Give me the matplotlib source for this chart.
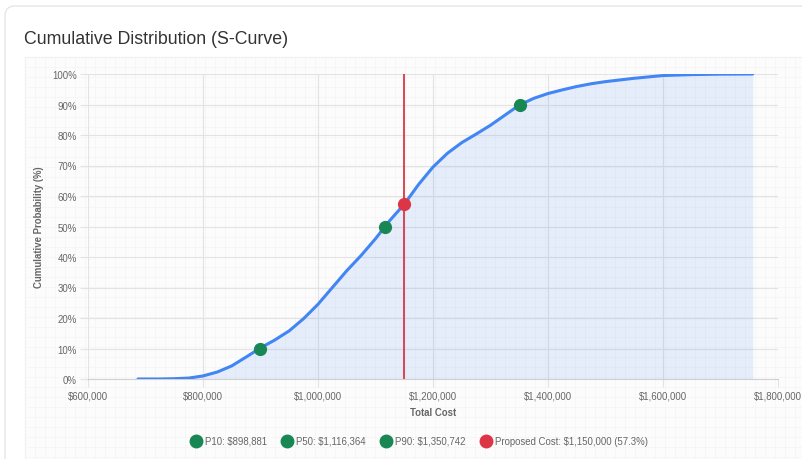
import numpy as np
import matplotlib.pyplot as plt
from matplotlib.patches import FancyBboxPatch, Rectangle
from matplotlib.lines import Line2D
from matplotlib.ticker import FuncFormatter

plt.rcParams['font.family'] = ['Liberation Sans', 'DejaVu Sans']

# S-curve
cost = [687000, 700000, 725000, 750000, 775000, 800000, 825000, 850000, 875000,
        900000, 925000, 950000, 975000, 1000000, 1025000, 1050000, 1075000,
        1100000, 1125000, 1150000, 1175000, 1200000, 1225000, 1250000, 1275000,
        1300000, 1325000, 1350000, 1375000, 1400000, 1425000, 1450000, 1475000,
        1500000, 1550000, 1600000, 1650000, 1700000, 1756000]
cum_pct = [0, 0, 0, 0.1, 0.3, 1.0, 2.3, 4.3, 7.2,
           10.2, 12.8, 15.8, 19.8, 24.5, 30, 35.5, 40.5,
           46, 52, 57.3, 63.8, 69.5, 74, 77.5, 80.3,
           83.2, 86.5, 89.8, 92, 93.6, 94.8, 95.9, 96.8,
           97.5, 98.6, 99.5, 99.8, 99.95, 100]

pct_labels = ['P10', 'P50', 'P90']
pct_costs = [898881, 1116364, 1350742]
pct_values = [10, 50, 90]

proposed_cost = 1150000
proposed_pct = 57.3

blue = '#4285f4'
green = '#198754'
red = '#dc3545'

fig = plt.figure(figsize=(8.02, 4.6), dpi=100)
W, H = 802, 460

# card + inner panel background
bg = fig.add_axes([0, 0, 1, 1], zorder=-5)
bg.set_xlim(0, W)
bg.set_ylim(H, 0)
bg.axis('off')
bg.add_patch(FancyBboxPatch((5, 7), 830, 470, boxstyle='round,pad=0,rounding_size=10',
                            fc='white', ec='#e6e6e6', lw=1))
bg.add_patch(Rectangle((25, 58), 800, 420, fc='#fcfcfc', ec='#ececec', lw=0.8))
for gx in np.arange(25, W, 10):
    bg.plot([gx, gx], [58, H], color='#f4f4f4', lw=0.5, zorder=1)
for gy in np.arange(58, H, 10):
    bg.plot([25, W], [gy, gy], color='#f4f4f4', lw=0.5, zorder=1)

fig.text(24 / W, 1 - 39 / H, 'Cumulative Distribution (S-Curve)', fontsize=12.8,
         color='#333333', va='center', ha='left')

ax = fig.add_axes([88 / W, 1 - 380 / H, 690 / W, 305 / H])
ax.set_facecolor('none')
ax.set_xlim(600000, 1800000)
ax.set_ylim(0, 100)

ax.fill_between(cost, cum_pct, 0, color=blue, alpha=0.12, lw=0)
ax.plot(cost, cum_pct, color=blue, lw=2.2, solid_capstyle='round', zorder=3)
ax.axvline(proposed_cost, color=red, lw=1.3, zorder=2)
ax.plot(pct_costs, pct_values, 'o', color=green, ms=8.5, zorder=4)
ax.plot([proposed_cost], [proposed_pct], 'o', color=red, ms=8.5, zorder=4)

ax.set_xticks(np.arange(600000, 1800001, 200000))
ax.set_yticks(np.arange(0, 101, 10))
ax.xaxis.set_major_formatter(FuncFormatter(lambda v, p: f'${v:,.0f}'))
ax.yaxis.set_major_formatter(FuncFormatter(lambda v, p: f'{v:.0f}%'))
ax.grid(True, color='#e3e3e3', lw=0.8)
ax.set_axisbelow(True)
for s in ['top', 'right', 'left']:
    ax.spines[s].set_visible(False)
ax.spines['bottom'].set_color('#d0d0d0')
ax.tick_params(axis='both', length=6, color='#e3e3e3', labelsize=6.9,
               labelcolor='#666666', pad=2)

ax.set_xlabel('Total Cost', fontsize=6.9, fontweight='bold', color='#666666', labelpad=5)
ax.set_ylabel('Cumulative Probability (%)', fontsize=6.9, fontweight='bold',
              color='#666666', labelpad=6)

handles = []
for lab, c in zip(pct_labels, pct_costs):
    handles.append(Line2D([], [], marker='o', ls='none', color=green, ms=9,
                          label=f'{lab}: ${c:,.0f}'))
handles.append(Line2D([], [], marker='o', ls='none', color=red, ms=9,
                      label=f'Proposed Cost: ${proposed_cost:,.0f} ({proposed_pct}%)'))
fig.legend(handles=handles, loc='center', bbox_to_anchor=(419 / W, 1 - 442 / H),
           ncol=4, frameon=False, fontsize=6.9, labelcolor='#666666',
           handletextpad=0.35, columnspacing=1.5, handlelength=1.2)

fig.savefig('out.png', dpi=100)
